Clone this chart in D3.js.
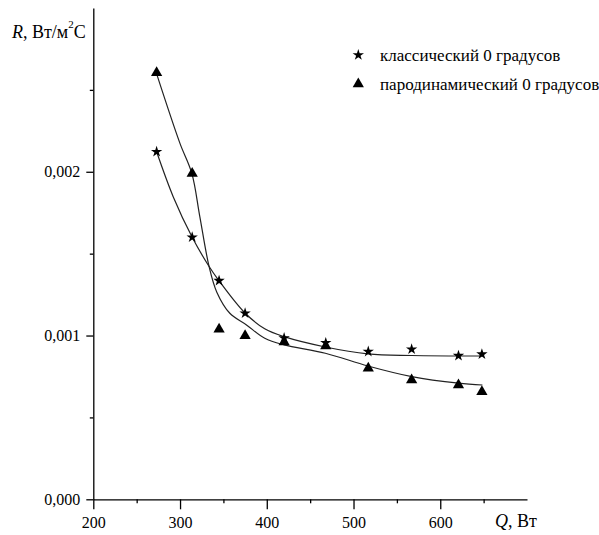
<!DOCTYPE html>
<html>
<head>
<meta charset="utf-8">
<script src="https://cdn.jsdelivr.net/npm/d3@7"></script>
<style>
  html, body { margin: 0; padding: 0; background: #fff; }
  svg { display: block; }
</style>
</head>
<body>
<svg id="chart" width="599" height="535"></svg>
<script>
// ---- data ----
const qValues   = [273, 314, 345, 375, 420, 468, 517, 567, 621, 648];
const classicR  = [0.002122, 0.001600, 0.001335, 0.001136, 0.000985, 0.000955, 0.000902, 0.000916, 0.000877, 0.000886];
const parodynR  = [0.002604, 0.001990, 0.001038, 0.000998, 0.000961, 0.000936, 0.000800, 0.000729, 0.000698, 0.000657];

// fitted curves
const classicFitQ = [273, 292.1, 314, 332.4, 345, 374.6, 397.6, 419.9, 467.5, 516.6, 566.9, 648.6];
const classicFitR = [0.002122, 0.001848, 0.001600, 0.001431, 0.001334, 0.001139, 0.001041, 0.000993, 0.000930, 0.000888, 0.000878, 0.000875];
const parodFitQ = [273.5, 299.8, 313.6, 322.8, 333.5, 342.4, 357.4, 376.6, 397.7, 419.9, 467.5, 516.6, 567.2, 621, 648.6];
const parodFitR = [0.002590, 0.002175, 0.001990, 0.001726, 0.001421, 0.001265, 0.001136, 0.001065, 0.000983, 0.000943, 0.000892, 0.000814, 0.000749, 0.000709, 0.000698];

const xMajor = [200, 300, 400, 500, 600];
const xMinor = [250, 350, 450, 550, 650];
const yMajor = [0, 0.001, 0.002];
const yMinor = [0.0005, 0.0015, 0.0025];
const yTickLabels = ["0,000", "0,001", "0,002"];

const legendLabels = ["классический 0 градусов", "пародинамический 0 градусов"];

const FONT = "Liberation Serif";

// ---- scales ----
const svg = d3.select("#chart");
svg.append("rect").attr("width", 599).attr("height", 535).attr("fill", "#fff");

const x = d3.scaleLinear().domain([200, 700]).range([93.3, 527]);
const y = d3.scaleLinear().domain([0, 0.003]).range([499.3, 8]);

// ---- axes ----
const gx = svg.append("g").attr("transform", `translate(0,${y(0)})`);
gx.call(d3.axisBottom(x).tickValues(xMajor).tickSize(10).tickSizeOuter(0).tickFormat(d3.format("d")));
const gxm = svg.append("g").attr("transform", `translate(0,${y(0)})`);
gxm.call(d3.axisBottom(x).tickValues(xMinor).tickSize(4).tickSizeOuter(0).tickFormat(""));
gxm.select(".domain").remove();

const gy = svg.append("g").attr("transform", `translate(${x(200)},0)`);
gy.call(d3.axisLeft(y).tickValues(yMajor).tickSize(7).tickSizeOuter(0).tickFormat((d, i) => yTickLabels[i]));
const gym = svg.append("g").attr("transform", `translate(${x(200)},0)`);
gym.call(d3.axisLeft(y).tickValues(yMinor).tickSize(3.5).tickSizeOuter(0).tickFormat(""));
gym.select(".domain").remove();

[gx, gxm, gy, gym].forEach(g => g.attr("font-family", FONT).attr("font-size", 16));
svg.selectAll(".domain, .tick line").attr("stroke", "#000").attr("stroke-width", 1.3);
gx.selectAll(".tick text").attr("fill", "#000").attr("y", 17).attr("dy", "0.71em");
gy.selectAll(".tick text").attr("fill", "#000").attr("x", -13).attr("dy", "0.3em");

// axis titles
const yt = svg.append("text").attr("x", 12).attr("y", 38).attr("font-size", 18).attr("font-family", FONT);
yt.append("tspan").attr("font-style", "italic").text("R");
yt.append("tspan").text(", Вт/м");
yt.append("tspan").attr("font-size", 11).attr("dy", -10).text("2");
yt.append("tspan").attr("dy", 10).text("C");

const xt = svg.append("text").attr("x", 495).attr("y", 527).attr("font-size", 18).attr("font-family", FONT);
xt.append("tspan").attr("font-style", "italic").text("Q");
xt.append("tspan").text(", Вт");

// ---- fit curves ----
const line = d3.line().x(d => x(d[0])).y(d => y(d[1])).curve(d3.curveCatmullRom.alpha(0.5));
svg.append("path").datum(classicFitQ.map((q, i) => [q, classicFitR[i]]))
  .attr("d", line).attr("fill", "none").attr("stroke", "#222").attr("stroke-width", 1.2);
svg.append("path").datum(parodFitQ.map((q, i) => [q, parodFitR[i]]))
  .attr("d", line).attr("fill", "none").attr("stroke", "#222").attr("stroke-width", 1.2);

// ---- markers ----
const star = d3.symbol().type(d3.symbolStar).size(40);
const tri = d3.symbol().type(d3.symbolTriangle).size(55);

svg.append("g").selectAll("path").data(qValues.map((q, i) => [q, parodynR[i]])).join("path")
  .attr("d", tri).attr("transform", d => `translate(${x(d[0])},${y(d[1])})`).attr("fill", "#000");
svg.append("g").selectAll("path").data(qValues.map((q, i) => [q, classicR[i]])).join("path")
  .attr("d", star).attr("transform", d => `translate(${x(d[0])},${y(d[1])})`).attr("fill", "#000");

// ---- legend ----
const legend = svg.append("g");
legend.append("path").attr("d", star).attr("transform", "translate(358.3,55)").attr("fill", "#000");
legend.append("path").attr("d", tri).attr("transform", "translate(358.3,84)").attr("fill", "#000");
legend.append("text").attr("x", 380).attr("y", 61).attr("font-size", 17).attr("font-family", FONT).text(legendLabels[0]);
legend.append("text").attr("x", 380).attr("y", 90).attr("font-size", 17).attr("font-family", FONT).text(legendLabels[1]);
</script>
</body>
</html>
